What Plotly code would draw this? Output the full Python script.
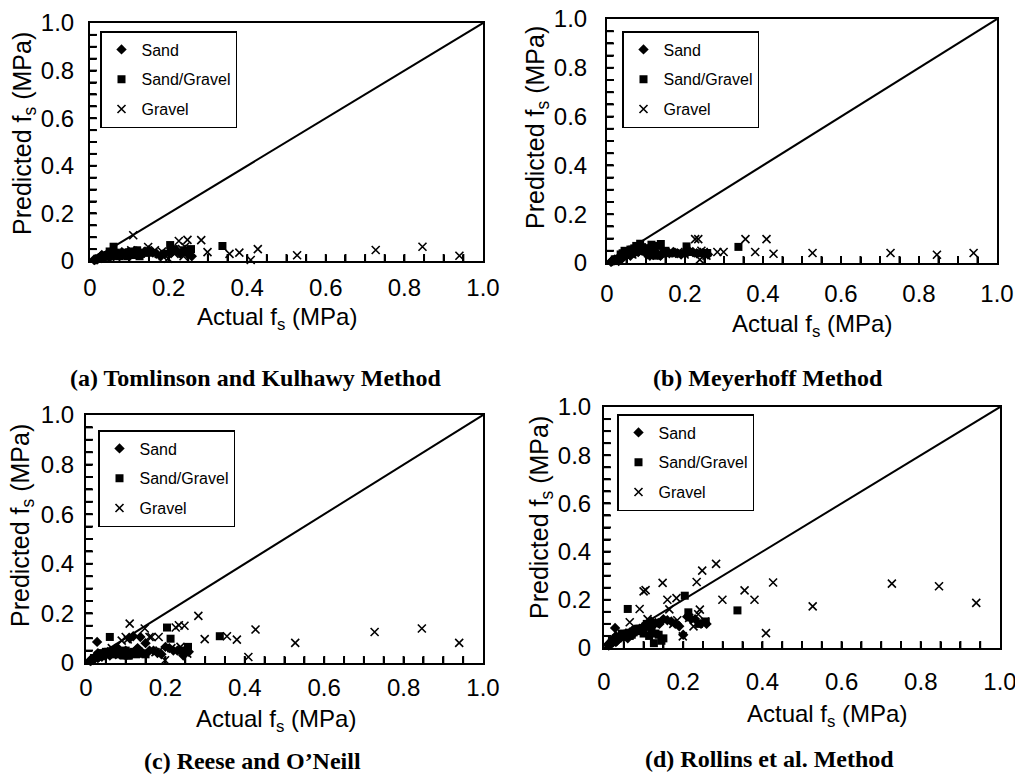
import plotly.graph_objects as go

# ---------------- data (MPa) ----------------
# measured (actual) side-friction values, shared by all four methods
sand_actual = [0.010, 0.015, 0.020, 0.025, 0.028, 0.030, 0.035, 0.040, 0.045, 0.050,
               0.055, 0.060, 0.065, 0.070, 0.075, 0.080, 0.090, 0.100, 0.110, 0.119,
               0.130, 0.137, 0.150, 0.170, 0.180, 0.200, 0.210, 0.230, 0.259, 0.030,
               0.012, 0.018, 0.022, 0.033, 0.038, 0.042, 0.048, 0.058, 0.068, 0.078,
               0.085, 0.095, 0.105, 0.115, 0.125, 0.140, 0.160, 0.190, 0.220, 0.245]
sg_actual = [0.020, 0.030, 0.040, 0.045, 0.055, 0.060, 0.070, 0.080, 0.085, 0.095,
             0.100, 0.108, 0.114, 0.126, 0.138, 0.145, 0.204, 0.213, 0.257, 0.337,
             0.050, 0.120, 0.035, 0.065, 0.075, 0.090, 0.105, 0.130, 0.150, 0.240]
gravel_actual = [0.065, 0.090, 0.100, 0.105, 0.110, 0.148, 0.160, 0.165, 0.175, 0.183,
                 0.185, 0.199, 0.215, 0.226, 0.234, 0.238, 0.242, 0.248, 0.255, 0.283,
                 0.299, 0.355, 0.380, 0.409, 0.427, 0.527, 0.727, 0.846, 0.940]

# (a) Tomlinson and Kulhawy
tk_sand = [0.005, 0.008, 0.010, 0.015, 0.020, 0.012, 0.018, 0.020, 0.025, 0.015,
           0.030, 0.020, 0.025, 0.030, 0.020, 0.035, 0.030, 0.025, 0.035, 0.040,
           0.030, 0.035, 0.045, 0.030, 0.020, 0.035, 0.040, 0.030, 0.020, 0.025,
           0.004, 0.006, 0.012, 0.015, 0.020, 0.022, 0.018, 0.025, 0.030, 0.028,
           0.030, 0.035, 0.030, 0.038, 0.035, 0.040, 0.035, 0.030, 0.045, 0.035]
tk_sg = [0.010, 0.015, 0.020, 0.025, 0.030, 0.060, 0.030, 0.025, 0.035, 0.020,
         0.030, 0.025, 0.030, 0.020, 0.035, 0.040, 0.067, 0.050, 0.050, 0.063,
         0.040, 0.045, 0.020, 0.035, 0.020, 0.030, 0.040, 0.030, 0.035, 0.045]
tk_gravel = [0.030, 0.040, 0.035, 0.045, 0.108, 0.059, 0.035, 0.045, 0.030, 0.040,
             0.020, 0.010, 0.030, 0.084, 0.050, 0.020, 0.060, 0.089, 0.030, 0.088,
             0.037, 0.030, 0.035, 0.004, 0.050, 0.024, 0.046, 0.060, 0.022]

# (b) Meyerhoff
mey_sand = [0.005, 0.010, 0.015, 0.012, 0.020, 0.008, 0.025, 0.020, 0.030, 0.035,
            0.040, 0.030, 0.045, 0.040, 0.050, 0.045, 0.050, 0.040, 0.030, 0.045,
            0.035, 0.030, 0.040, 0.045, 0.040, 0.045, 0.050, 0.040, 0.035, 0.015,
            0.006, 0.010, 0.012, 0.020, 0.030, 0.025, 0.035, 0.045, 0.050, 0.055,
            0.060, 0.050, 0.045, 0.040, 0.045, 0.035, 0.040, 0.035, 0.045, 0.040]
mey_sg = [0.015, 0.010, 0.040, 0.050, 0.045, 0.055, 0.060, 0.065, 0.079, 0.060,
          0.050, 0.040, 0.075, 0.030, 0.078, 0.040, 0.068, 0.045, 0.041, 0.066,
          0.035, 0.055, 0.035, 0.055, 0.070, 0.065, 0.060, 0.070, 0.050, 0.040]
mey_gravel = [0.035, 0.045, 0.050, 0.040, 0.030, 0.045, 0.040, 0.042, 0.040, 0.045,
              0.038, 0.035, 0.040, 0.098, 0.098, 0.014, 0.050, 0.045, 0.030, 0.045,
              0.045, 0.098, 0.045, 0.098, 0.038, 0.041, 0.041, 0.034, 0.041]

# (c) Reese and O'Neill
ro_sand = [0.010, 0.015, 0.020, 0.025, 0.085, 0.020, 0.030, 0.025, 0.040, 0.035,
           0.045, 0.030, 0.040, 0.050, 0.035, 0.060, 0.045, 0.050, 0.100, 0.108,
           0.060, 0.105, 0.080, 0.050, 0.040, 0.065, 0.060, 0.050, 0.045, 0.040,
           0.008, 0.012, 0.018, 0.025, 0.030, 0.035, 0.030, 0.040, 0.045, 0.040,
           0.035, 0.040, 0.045, 0.040, 0.050, 0.045, 0.050, 0.035, 0.050, 0.030]
ro_sg = [0.020, 0.030, 0.040, 0.035, 0.045, 0.105, 0.050, 0.040, 0.045, 0.030,
         0.050, 0.030, 0.040, 0.035, 0.038, 0.038, 0.143, 0.098, 0.065, 0.108,
         0.045, 0.045, 0.030, 0.040, 0.035, 0.040, 0.030, 0.045, 0.035, 0.050]
ro_gravel = [0.060, 0.090, 0.105, 0.095, 0.159, 0.139, 0.105, 0.105, 0.044, 0.105,
             0.050, 0.011, 0.060, 0.143, 0.152, 0.065, 0.055, 0.150, 0.038, 0.190,
             0.096, 0.108, 0.094, 0.024, 0.135, 0.081, 0.125, 0.139, 0.081]

# (d) Rollins et al.
rol_sand = [0.015, 0.020, 0.030, 0.035, 0.083, 0.025, 0.040, 0.045, 0.050, 0.055,
            0.060, 0.040, 0.065, 0.070, 0.060, 0.075, 0.080, 0.090, 0.100, 0.110,
            0.104, 0.104, 0.120, 0.110, 0.100, 0.055, 0.130, 0.120, 0.100, 0.050,
            0.010, 0.018, 0.022, 0.030, 0.040, 0.045, 0.050, 0.060, 0.065, 0.070,
            0.075, 0.080, 0.090, 0.085, 0.095, 0.100, 0.115, 0.090, 0.120, 0.100]
rol_sg = [0.030, 0.040, 0.045, 0.060, 0.050, 0.162, 0.055, 0.075, 0.080, 0.070,
          0.060, 0.100, 0.050, 0.020, 0.055, 0.030, 0.217, 0.148, 0.110, 0.156,
          0.045, 0.070, 0.040, 0.050, 0.065, 0.080, 0.090, 0.060, 0.040, 0.100]
rol_gravel = [0.107, 0.162, 0.235, 0.240, 0.120, 0.270, 0.200, 0.160, 0.100, 0.207,
              0.115, 0.048, 0.125, 0.090, 0.274, 0.140, 0.159, 0.321, 0.110, 0.349,
              0.200, 0.239, 0.200, 0.062, 0.272, 0.173, 0.267, 0.256, 0.187]

line_of_equality = [0.0, 1.0]

# tick-mark positions (every 0.05 MPa) along both axes
tick_marks = [0.05, 0.10, 0.15, 0.20, 0.25, 0.30, 0.35, 0.40, 0.45, 0.50,
              0.55, 0.60, 0.65, 0.70, 0.75, 0.80, 0.85, 0.90, 0.95]

captions = ["(a) Tomlinson and Kulhawy Method", "(b) Meyerhoff Method",
            "(c) Reese and O\u2019Neill", "(d) Rollins et al. Method"]

methods = [
    (tk_sand, tk_sg, tk_gravel),
    (mey_sand, mey_sg, mey_gravel),
    (ro_sand, ro_sg, ro_gravel),
    (rol_sand, rol_sg, rol_gravel),
]

# ---------------- layout geometry (pixels in a 1015x775 page) ----------------
W, H = 1015, 775
SANS = "Liberation Sans, Arial, sans-serif"
SERIF = "Liberation Serif, Times New Roman, serif"

# plot-area boxes: left, right, top, bottom
boxes = [(90, 483, 23, 261), (607, 997, 19, 263), (86, 483, 415, 663), (604, 1000, 407, 648)]
x_standoff = [4, 8, 2, 11]
y_standoff = [9, 13, 5, 6]
legend_pos = [(100, 31), (622, 31), (98, 430), (617, 414)]
xtitle_pos = [(277, 318), (812, 325), (276, 720), (827, 715)]
ytitle_pos = [(24, 134), (537, 128), (22, 526), (541, 518)]
caption_pos = [(255, 378), (768, 378), (252, 761), (769, 759)]
TICK_PX = 7


def px(x):
    return x / W


def py(y):
    return 1 - y / H


fig = go.Figure()
annotations = []
shapes = []

for i, (p_sand, p_sg, p_gravel) in enumerate(methods):
    k = "" if i == 0 else str(i + 1)
    xa, ya = "x" + k, "y" + k
    leg = "legend" + k
    common = dict(xaxis=xa, yaxis=ya, legend=leg, mode="markers", cliponaxis=False)
    fig.add_trace(go.Scatter(x=sand_actual, y=p_sand, name="Sand", legendgroup=f"s{i}",
                             marker=dict(symbol="diamond", size=8, color="black"), **common))
    fig.add_trace(go.Scatter(x=sg_actual, y=p_sg, name="Sand/Gravel", legendgroup=f"sg{i}",
                             marker=dict(symbol="square", size=8, color="black"), **common))
    fig.add_trace(go.Scatter(x=gravel_actual, y=p_gravel, name="Gravel", legendgroup=f"g{i}",
                             marker=dict(symbol="x-thin", size=8, color="black",
                                         line=dict(width=1.6, color="black")), **common))
    fig.add_trace(go.Scatter(x=line_of_equality, y=line_of_equality, mode="lines",
                             xaxis=xa, yaxis=ya, showlegend=False, hoverinfo="skip",
                             line=dict(color="black", width=2)))

    l, r, t, b = boxes[i]
    ax_common = dict(range=[0, 1], tickmode="linear", tick0=0, dtick=0.2,
                     tickformat=".1f", labelalias={"0.0": "0"},
                     ticks="inside", ticklen=6, tickwidth=1.5, tickcolor="#000000",
                     minor=dict(dtick=0.05, tick0=0, ticks="inside", ticklen=6,
                                tickwidth=1.5, tickcolor="#000000", showgrid=False),
                     showline=True, linewidth=2, linecolor="black", mirror=True,
                     showgrid=False, zeroline=False, automargin=False,
                     ticklabeloverflow="allow", layer="above traces",
                     tickfont=dict(family=SANS, size=24, color="black"))
    fig.update_layout({
        "xaxis" + k: dict(domain=[px(l), px(r)], anchor=ya,
                          ticklabelstandoff=x_standoff[i], **ax_common),
        "yaxis" + k: dict(domain=[py(b), py(t)], anchor=xa,
                          ticklabelstandoff=y_standoff[i], **ax_common),
        leg: dict(x=px(legend_pos[i][0]), y=py(legend_pos[i][1]), xanchor="left",
                  yanchor="top", xref="paper", yref="paper", bgcolor="white",
                  bordercolor="black", borderwidth=1.5, tracegroupgap=6,
                  traceorder="grouped",
                  font=dict(family=SANS, size=16, color="black")),
    })

    # inside tick marks on the left and bottom axes, as short segments in
    # each axis' domain fraction (length expressed as a fraction of the box)
    fx = TICK_PX / (r - l)
    fy = TICK_PX / (b - t)
    for v in tick_marks:
        shapes.append(dict(type="line", layer="above",
                           xref=xa + " domain", yref=ya + " domain",
                           x0=0, x1=fx, y0=v, y1=v,
                           line=dict(color="black", width=2)))
        shapes.append(dict(type="line", layer="above",
                           xref=xa + " domain", yref=ya + " domain",
                           x0=v, x1=v, y0=0, y1=fy,
                           line=dict(color="black", width=2)))

    annotations.append(dict(x=px(xtitle_pos[i][0]), y=py(xtitle_pos[i][1]),
                            xref="paper", yref="paper", showarrow=False,
                            text="Actual f<sub>s</sub> (MPa)", xanchor="center",
                            yanchor="middle", font=dict(family=SANS, size=24, color="black")))
    annotations.append(dict(x=px(ytitle_pos[i][0]), y=py(ytitle_pos[i][1]),
                            xref="paper", yref="paper", showarrow=False, textangle=-90,
                            text="Predicted f<sub>s</sub> (MPa)", xanchor="center",
                            yanchor="middle", font=dict(family=SANS, size=25, color="black")))
    annotations.append(dict(x=px(caption_pos[i][0]), y=py(caption_pos[i][1]),
                            xref="paper", yref="paper", showarrow=False,
                            text="<b>" + captions[i] + "</b>", xanchor="center",
                            yanchor="middle", font=dict(family=SERIF, size=24, color="black")))

fig.update_layout(template="none", width=W, height=H,
                  margin=dict(l=0, r=0, t=0, b=0, pad=0, autoexpand=False),
                  paper_bgcolor="white", plot_bgcolor="white",
                  annotations=annotations, shapes=shapes, hovermode=False)

fig.write_html("out.html", config={"displayModeBar": False},
               post_script="document.body.style.margin='0';"
                           "document.body.style.overflow='hidden';")
